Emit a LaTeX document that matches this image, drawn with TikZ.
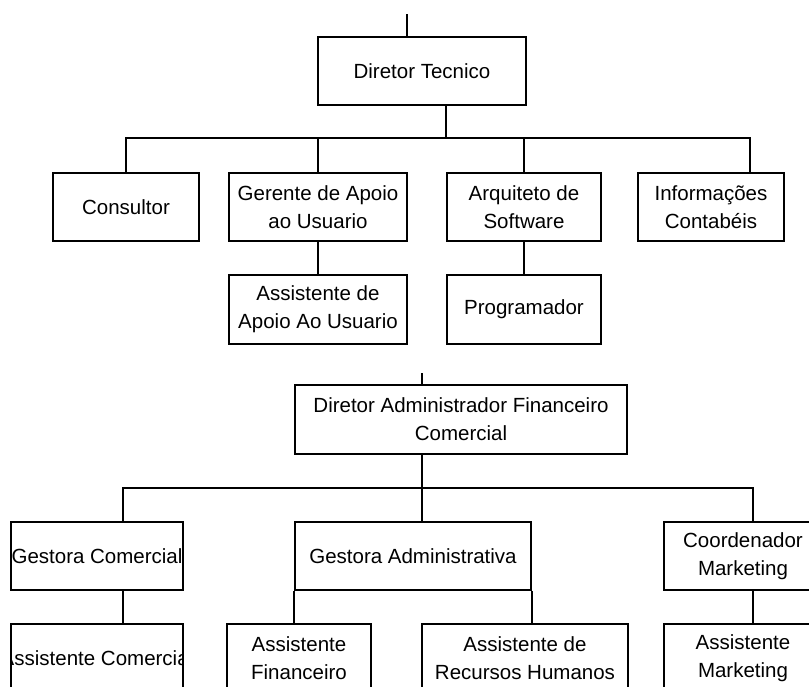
\documentclass[tikz,border=0pt]{standalone}
\usepackage{fontspec}
\setmainfont{Liberation Sans}
\usepackage{tikz}
\usetikzlibrary{positioning}
\tikzset{
    box/.style={rectangle, draw, line width=1.6pt, align=center, inner sep=0pt, minimum height=68pt, font=\fontsize{20.5}{28}\selectfont},
    link/.style={line width=1.6pt}
}

\begin{document}
\begin{tikzpicture}[x=1pt, y=-1pt]
        \clip (0,0) rectangle (809,686);
        \fill[white] (0,0) rectangle (809,686);

        % Diretor Tecnico
        \node[box, minimum width=208pt] (dt) at (422, 71) {Diretor Tecnico};
        \node[box, minimum width=146pt] (cons) at (126, 207) {Consultor};
        \node[box, minimum width=178pt] (ger) at (318, 207) {Gerente de Apoio\\ao Usuario};
        \node[box, minimum width=154pt] (arq) at (524, 207) {Arquiteto de\\Software};
        \node[box, minimum width=146pt] (info) at (711, 207) {Informações\\Contabéis};
        \node[box, minimum width=178pt, minimum height=69pt] (apoio) at (318, 309.5) {Assistente de\\Apoio Ao Usuario};
        \node[box, minimum width=154pt, minimum height=69pt] (prog) at (524, 309.5) {Programador};

        \coordinate (top1) at (407, 14);
        \coordinate (b1r) at (750, 138);
        \draw[link] (top1) -- (top1 |- dt.north);
        \draw[link] (dt.south -| arq.west) -- (b1r -| arq.west);
        \draw[link] (cons.north) |- (b1r) -- (b1r |- info.north);
        \draw[link] (ger.north) -- (ger.north |- b1r);
        \draw[link] (arq.north) -- (arq.north |- b1r);
        \draw[link] (ger.south) -- (apoio.north);
        \draw[link] (arq.south) -- (prog.north);

        % Diretor Administrador
        \node[box, minimum width=332pt, minimum height=69pt] (dafc) at (461, 419.5) {Diretor Administrador Financeiro\\Comercial};
        \node[box, minimum width=172pt] (gcom) at (97, 556) {Gestora Comercial};
        \node[box, minimum width=236pt] (gadm) at (413, 556) {Gestora Administrativa};
        \node[box, minimum width=158pt] (cmkt) at (743, 556) {Coordenador\\Marketing};
        \node[box, minimum width=172pt, path picture={\node[font=\fontsize{20.5}{28}\selectfont] at (path picture bounding box.center) {Assistente Comercial};}] (acom) at (97, 658) {};
        \node[box, minimum width=144pt] (afin) at (299, 658) {Assistente\\Financeiro};
        \node[box, minimum width=206pt] (arh) at (525, 658) {Assistente de\\Recursos Humanos};
        \node[box, minimum width=158pt] (amkt) at (743, 658) {Assistente\\Marketing};

        \coordinate (top2) at (422, 373);
        \coordinate (b2l) at (123, 488);
        \coordinate (b2r) at (753, 488);
        \draw[link] (top2) -- (top2 |- dafc.north);
        \draw[link] (dafc.south -| top2) -- (top2 |- gadm.north);
        \draw[link] (gcom.north -| b2l) -- (b2l) -- (b2r) -- (b2r |- cmkt.north);
        \draw[link] (gcom.south -| b2l) -- (acom.north -| b2l);
        \draw[link] (gadm.south west) -- (afin.north -| gadm.west);
        \draw[link] (gadm.south east) -- (arh.north -| gadm.east);
        \draw[link] (cmkt.south -| b2r) -- (amkt.north -| b2r);
\end{tikzpicture}
\end{document}
